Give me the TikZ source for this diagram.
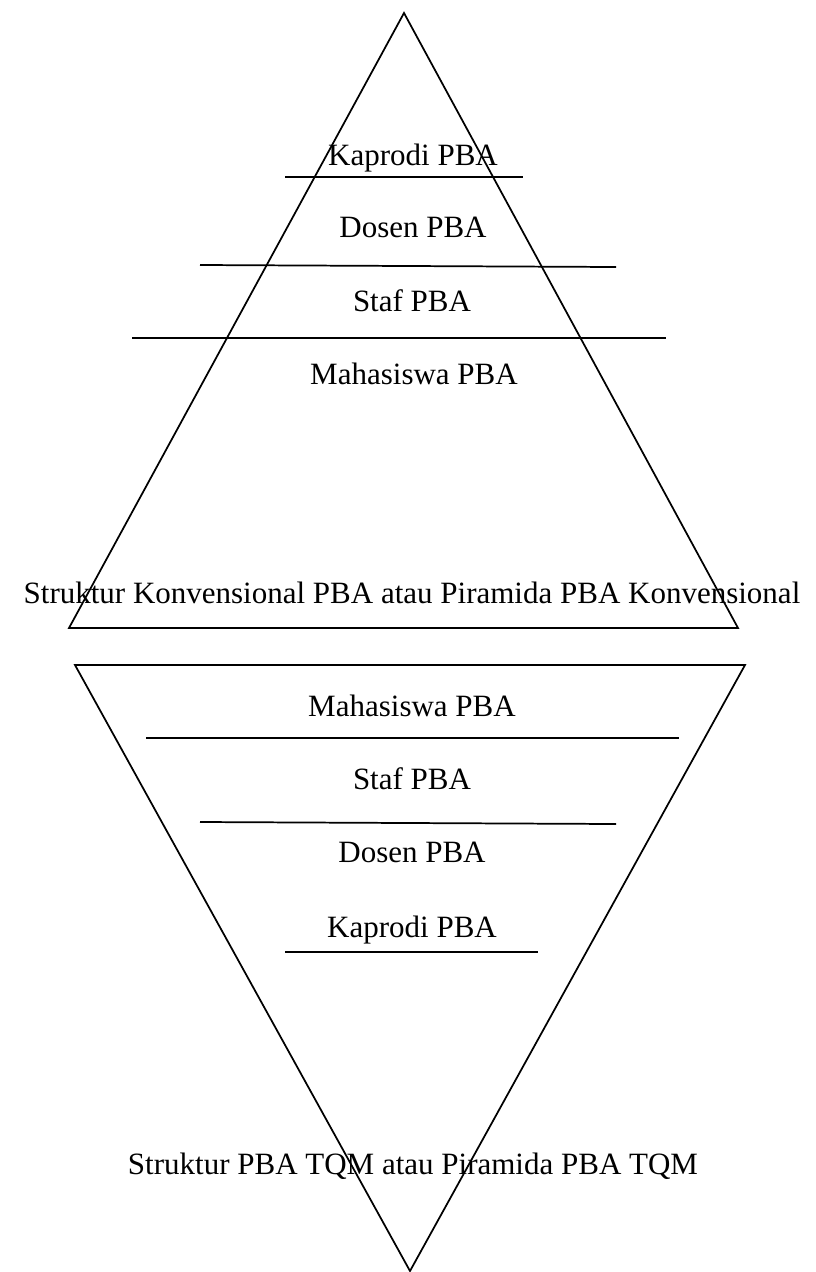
\documentclass[tikz,border=0pt]{standalone}
\usepackage{fontspec}
\setmainfont{Liberation Serif}
\begin{document}
\begin{tikzpicture}[x=0.75pt,y=-0.75pt,
  lbl/.style={font=\fontsize{23.25}{28}\selectfont, inner sep=0pt, anchor=base},
  edge/.style={line width=1.3pt, line join=miter},
  sep/.style={line width=1.3pt}]
\useasboundingbox (0,0) rectangle (816,1272);
% ---------- top pyramid ----------
\coordinate (tA) at (404,13);
\coordinate (tL) at (69,628);
\coordinate (tR) at (738,628);
\draw[edge] (tA) -- (tL) -- (tR) -- cycle;
\coordinate (k1a) at (285,177); \coordinate (k1b) at (523,177);
\coordinate (d1a) at (200,265); \coordinate (d1b) at (616,267);
\coordinate (s1a) at (132,338); \coordinate (s1b) at (666,338);
\draw[sep] (k1a) -- (k1b);
\draw[sep] (d1a) -- (d1b);
\draw[sep] (s1a) -- (s1b);
\node[lbl] (tk) at (413,165) {Kaprodi PBA};
\node[lbl] (td) at (413,237) {Dosen PBA};
\node[lbl] (ts) at (412,311) {Staf PBA};
\node[lbl] (tm) at (414,384) {Mahasiswa PBA};
\node[lbl] (tc) at (412,603) {Struktur Konvensional PBA atau Piramida PBA Konvensional};
% ---------- bottom pyramid ----------
\coordinate (bL) at (75,665);
\coordinate (bR) at (745,665);
\coordinate (bA) at (410,1271);
\draw[edge] (bL) -- (bR) -- (bA) -- cycle;
\coordinate (m2a) at (146,738); \coordinate (m2b) at (679,738);
\coordinate (d2a) at (200,822); \coordinate (d2b) at (616,824);
\coordinate (k2a) at (285,952); \coordinate (k2b) at (538,952);
\draw[sep] (m2a) -- (m2b);
\draw[sep] (d2a) -- (d2b);
\draw[sep] (k2a) -- (k2b);
\node[lbl] (bm) at (412,716) {Mahasiswa PBA};
\node[lbl] (bs) at (412,789) {Staf PBA};
\node[lbl] (bd) at (412,862) {Dosen PBA};
\node[lbl] (bk) at (412,937) {Kaprodi PBA};
\node[lbl] (bc) at (413,1174) {Struktur PBA TQM atau Piramida PBA TQM};
\end{tikzpicture}
\end{document}
